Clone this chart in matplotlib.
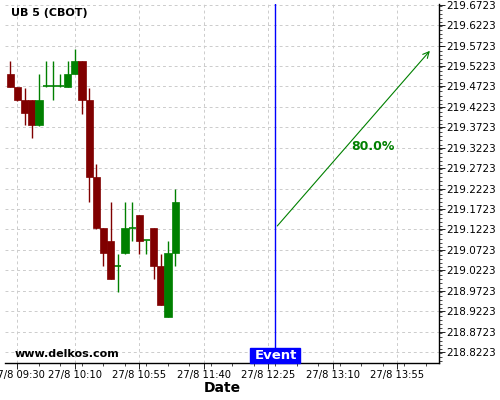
import matplotlib
matplotlib.use("Agg")
import matplotlib.pyplot as plt
from matplotlib.patches import Rectangle
from matplotlib.ticker import MultipleLocator, FixedLocator

# 5-minute candles, 27/8
times = ["09:25", "09:30", "09:35", "09:40", "09:45", "09:50", "09:55", "10:00",
         "10:05", "10:10", "10:15", "10:20", "10:25", "10:30", "10:35", "10:40",
         "10:45", "10:50", "10:55", "11:00", "11:05", "11:10", "11:15", "11:20"]
opens = [219.503, 219.472, 219.439, 219.439, 219.378, 219.473, 219.473, 219.473,
         219.472, 219.503, 219.534, 219.439, 219.251, 219.126, 219.095, 219.034,
         219.065, 219.127, 219.157, 219.096, 219.126, 219.033, 218.909, 219.065]
highs = [219.534, 219.472, 219.469, 219.439, 219.503, 219.534, 219.534, 219.503,
         219.534, 219.563, 219.534, 219.469, 219.282, 219.126, 219.189, 219.063,
         219.189, 219.189, 219.157, 219.096, 219.126, 219.063, 219.095, 219.221]
lows = [219.470, 219.437, 219.378, 219.345, 219.375, 219.471, 219.439, 219.471,
        219.470, 219.503, 219.406, 219.189, 219.124, 219.033, 219.001, 218.968,
        219.063, 219.094, 219.063, 219.063, 219.000, 218.937, 218.909, 219.033]
closes = [219.472, 219.439, 219.408, 219.378, 219.439, 219.473, 219.473, 219.473,
          219.503, 219.534, 219.439, 219.251, 219.126, 219.065, 219.002, 219.034,
          219.126, 219.127, 219.094, 219.096, 219.033, 218.937, 219.065, 219.189]

event_time = "12:30"
arrow_start = ("12:30", 219.1257)
arrow_end = ("14:19", 219.5645)
arrow_label = "80.0%"

xtick_times = ["09:30", "10:10", "10:55", "11:40", "12:25", "13:10", "13:55"]
ytick_start, ytick_step, ytick_count = 218.8223, 0.05, 18


def mins(s):
    h, m = s.split(":")
    return int(h) * 60 + int(m)


RED = "#800000"
GREEN = "#008000"
BLUE = "#0000ff"

fig = plt.figure(figsize=(5, 4), dpi=100)
ax = fig.add_axes([0.01, 0.0925, 0.868, 0.8975])

for t, o, h, l, c in zip(times, opens, highs, lows, closes):
    x = mins(t)
    col = GREEN if c >= o else RED
    ax.vlines(x, l, h, color=col, lw=1, zorder=3)
    bot, top = min(o, c), max(o, c)
    if top - bot < 0.002:
        ax.hlines(o, x - 2.5, x + 2.5, color=col, lw=1.2, zorder=3)
    else:
        ax.add_patch(Rectangle((x - 2.5, bot), 5, top - bot, facecolor=col,
                               edgecolor=col, lw=0.5, zorder=4))

y0, y1 = 218.7954, 219.6740
ax.set_xlim(561.3, 864.1)
ax.set_ylim(y0, y1)

ax.xaxis.set_major_locator(FixedLocator([mins(t) for t in xtick_times]))
ax.set_xticklabels(["27/8 " + t for t in xtick_times], fontsize=7.2)
ax.xaxis.set_minor_locator(MultipleLocator(15))

yt = [ytick_start + i * ytick_step for i in range(ytick_count)]
ax.yaxis.set_major_locator(FixedLocator(yt))
ax.set_yticklabels(["%.4f" % v for v in yt], fontsize=7.5)
ax.yaxis.set_minor_locator(MultipleLocator(0.01))
ax.yaxis.tick_right()
ax.tick_params(axis="both", which="major", length=4, width=0.6, pad=1)
ax.tick_params(axis="both", which="minor", length=2, width=0.5)

ax.grid(True, which="major", ls=(0, (3, 3)), color="#cccccc", lw=0.7)
for s in ["left", "top"]:
    ax.spines[s].set_visible(False)
ax.spines["bottom"].set_linewidth(1)
ax.spines["right"].set_linewidth(1)

ax.set_xlabel("Date", fontsize=10, fontweight="bold", labelpad=1)

# event marker
ev = mins(event_time)
ax.axvline(ev, color=BLUE, lw=1, zorder=5)
box_top = 218.832
ax.add_patch(Rectangle((ev - 17.8, y0), 34.9, box_top - y0, facecolor=BLUE,
                       edgecolor=BLUE, zorder=6, clip_on=False))
ax.text(ev, (y0 + box_top) / 2, "Event", color="white", fontsize=9.5,
        fontweight="bold", ha="center", va="center", zorder=7)

ax.annotate("", xy=(mins(arrow_end[0]), arrow_end[1]),
            xytext=(mins(arrow_start[0]), arrow_start[1]),
            arrowprops=dict(arrowstyle="->", color=GREEN, lw=0.8,
                            mutation_scale=11), zorder=6)
ax.text(818, 219.326, arrow_label, color=GREEN, fontsize=9, fontweight="bold",
        ha="center", va="center")

ax.text(0.013, 0.975, "UB 5 (CBOT)", transform=ax.transAxes, fontsize=8,
        fontweight="bold", va="center", ha="left")
ax.text(0.023, 0.026, "www.delkos.com", transform=ax.transAxes, fontsize=8,
        fontweight="bold", va="center", ha="left")

fig.savefig("out.png", dpi=100)
